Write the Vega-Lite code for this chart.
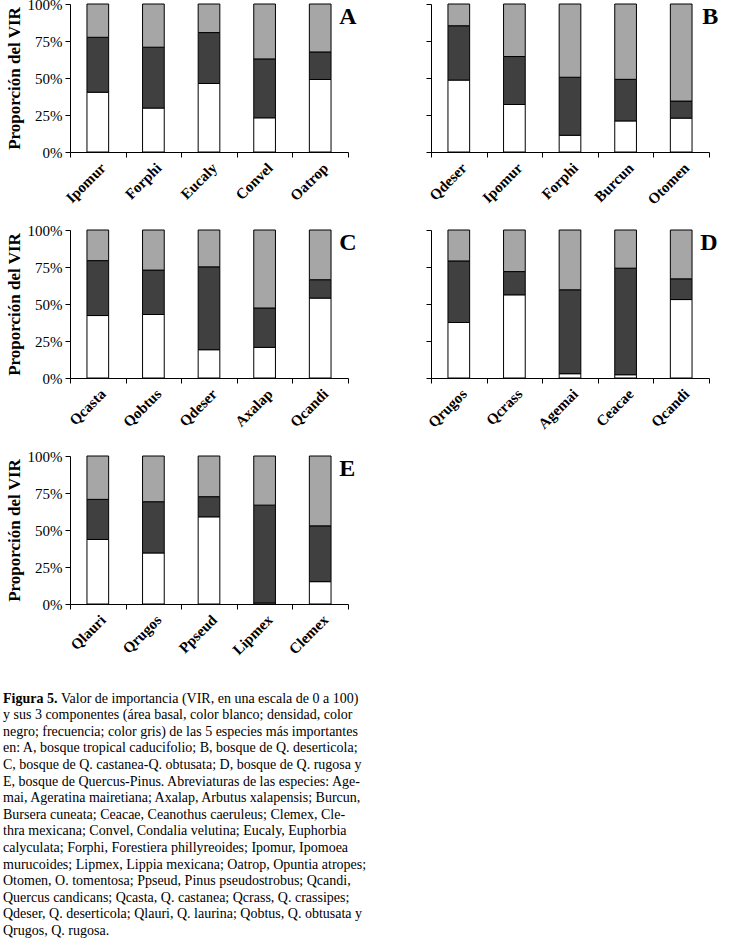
{
  "$schema": "https://vega.github.io/schema/vega-lite/v6.json",
  "padding": {"left": 3, "top": -3, "right": 5, "bottom": 0},
  "background": "#ffffff",
  "config": {
    "view": {"stroke": null},
    "font": "Liberation Serif",
    "axis": {"domainColor": "#000000", "tickColor": "#000000", "labelColor": "#000000", "titleColor": "#000000", "grid": false, "labelFont": "Liberation Serif", "titleFont": "Liberation Serif", "tickSize": 5, "domainWidth": 1, "tickWidth": 1, "labelOverlap": false},
    "axisX": {"title": null, "tickBand": "extent", "labelAngle": -45, "labelFontWeight": "bold", "labelFontSize": 15, "labelPadding": 3},
    "axisY": {"values": [0, 0.25, 0.5, 0.75, 1], "labelFontSize": 15, "labelPadding": 3, "titleFontSize": 17, "titleFontWeight": "bold", "titlePadding": 4}
  },
  "datasets": {
    "vir": [
      {"p": "A", "sp": "Ipomur", "c": "basal", "v": 40.4}, {"p": "A", "sp": "Ipomur", "c": "densidad", "v": 37.1}, {"p": "A", "sp": "Ipomur", "c": "frecuencia", "v": 22.5},
      {"p": "A", "sp": "Forphi", "c": "basal", "v": 29.7}, {"p": "A", "sp": "Forphi", "c": "densidad", "v": 41.1}, {"p": "A", "sp": "Forphi", "c": "frecuencia", "v": 29.2},
      {"p": "A", "sp": "Eucaly", "c": "basal", "v": 46.3}, {"p": "A", "sp": "Eucaly", "c": "densidad", "v": 34.4}, {"p": "A", "sp": "Eucaly", "c": "frecuencia", "v": 19.3},
      {"p": "A", "sp": "Convel", "c": "basal", "v": 23.1}, {"p": "A", "sp": "Convel", "c": "densidad", "v": 39.8}, {"p": "A", "sp": "Convel", "c": "frecuencia", "v": 37.1},
      {"p": "A", "sp": "Oatrop", "c": "basal", "v": 49.0}, {"p": "A", "sp": "Oatrop", "c": "densidad", "v": 18.6}, {"p": "A", "sp": "Oatrop", "c": "frecuencia", "v": 32.4},
      {"p": "B", "sp": "Qdeser", "c": "basal", "v": 48.6}, {"p": "B", "sp": "Qdeser", "c": "densidad", "v": 36.7}, {"p": "B", "sp": "Qdeser", "c": "frecuencia", "v": 14.7},
      {"p": "B", "sp": "Ipomur", "c": "basal", "v": 32.1}, {"p": "B", "sp": "Ipomur", "c": "densidad", "v": 32.4}, {"p": "B", "sp": "Ipomur", "c": "frecuencia", "v": 35.5},
      {"p": "B", "sp": "Forphi", "c": "basal", "v": 11.3}, {"p": "B", "sp": "Forphi", "c": "densidad", "v": 39.2}, {"p": "B", "sp": "Forphi", "c": "frecuencia", "v": 49.5},
      {"p": "B", "sp": "Burcun", "c": "basal", "v": 21.0}, {"p": "B", "sp": "Burcun", "c": "densidad", "v": 28.1}, {"p": "B", "sp": "Burcun", "c": "frecuencia", "v": 50.9},
      {"p": "B", "sp": "Otomen", "c": "basal", "v": 22.9}, {"p": "B", "sp": "Otomen", "c": "densidad", "v": 11.5}, {"p": "B", "sp": "Otomen", "c": "frecuencia", "v": 65.6},
      {"p": "C", "sp": "Qcasta", "c": "basal", "v": 42.2}, {"p": "C", "sp": "Qcasta", "c": "densidad", "v": 37.1}, {"p": "C", "sp": "Qcasta", "c": "frecuencia", "v": 20.7},
      {"p": "C", "sp": "Qobtus", "c": "basal", "v": 42.9}, {"p": "C", "sp": "Qobtus", "c": "densidad", "v": 30.0}, {"p": "C", "sp": "Qobtus", "c": "frecuencia", "v": 27.1},
      {"p": "C", "sp": "Qdeser", "c": "basal", "v": 19.1}, {"p": "C", "sp": "Qdeser", "c": "densidad", "v": 56.0}, {"p": "C", "sp": "Qdeser", "c": "frecuencia", "v": 24.9},
      {"p": "C", "sp": "Axalap", "c": "basal", "v": 20.7}, {"p": "C", "sp": "Axalap", "c": "densidad", "v": 26.6}, {"p": "C", "sp": "Axalap", "c": "frecuencia", "v": 52.7},
      {"p": "C", "sp": "Qcandi", "c": "basal", "v": 54.0}, {"p": "C", "sp": "Qcandi", "c": "densidad", "v": 12.4}, {"p": "C", "sp": "Qcandi", "c": "frecuencia", "v": 33.6},
      {"p": "D", "sp": "Qrugos", "c": "basal", "v": 37.5}, {"p": "D", "sp": "Qrugos", "c": "densidad", "v": 41.6}, {"p": "D", "sp": "Qrugos", "c": "frecuencia", "v": 20.9},
      {"p": "D", "sp": "Qcrass", "c": "basal", "v": 56.2}, {"p": "D", "sp": "Qcrass", "c": "densidad", "v": 15.7}, {"p": "D", "sp": "Qcrass", "c": "frecuencia", "v": 28.1},
      {"p": "D", "sp": "Agemai", "c": "basal", "v": 2.9}, {"p": "D", "sp": "Agemai", "c": "densidad", "v": 56.7}, {"p": "D", "sp": "Agemai", "c": "frecuencia", "v": 40.4},
      {"p": "D", "sp": "Ceacae", "c": "basal", "v": 2.2}, {"p": "D", "sp": "Ceacae", "c": "densidad", "v": 72.0}, {"p": "D", "sp": "Ceacae", "c": "frecuencia", "v": 25.8},
      {"p": "D", "sp": "Qcandi", "c": "basal", "v": 53.0}, {"p": "D", "sp": "Qcandi", "c": "densidad", "v": 14.0}, {"p": "D", "sp": "Qcandi", "c": "frecuencia", "v": 33.0},
      {"p": "E", "sp": "Qlauri", "c": "basal", "v": 43.6}, {"p": "E", "sp": "Qlauri", "c": "densidad", "v": 27.1}, {"p": "E", "sp": "Qlauri", "c": "frecuencia", "v": 29.3},
      {"p": "E", "sp": "Qrugos", "c": "basal", "v": 34.5}, {"p": "E", "sp": "Qrugos", "c": "densidad", "v": 34.6}, {"p": "E", "sp": "Qrugos", "c": "frecuencia", "v": 30.9},
      {"p": "E", "sp": "Ppseud", "c": "basal", "v": 58.9}, {"p": "E", "sp": "Ppseud", "c": "densidad", "v": 13.6}, {"p": "E", "sp": "Ppseud", "c": "frecuencia", "v": 27.5},
      {"p": "E", "sp": "Lipmex", "c": "basal", "v": 0.7}, {"p": "E", "sp": "Lipmex", "c": "densidad", "v": 66.1}, {"p": "E", "sp": "Lipmex", "c": "frecuencia", "v": 33.2},
      {"p": "E", "sp": "Clemex", "c": "basal", "v": 15.1}, {"p": "E", "sp": "Clemex", "c": "densidad", "v": 37.7}, {"p": "E", "sp": "Clemex", "c": "frecuencia", "v": 47.2}
    ],
    "labels": [
      {"p": "A", "t": "A", "sp": "Oatrop"},
      {"p": "B", "t": "B", "sp": "Otomen"},
      {"p": "C", "t": "C", "sp": "Qcandi"},
      {"p": "D", "t": "D", "sp": "Qcandi"},
      {"p": "E", "t": "E", "sp": "Clemex"}
    ],
    "caption": [
      {"line": 0, "part": "bold", "t": "Figura 5."},
      {"line": 0, "part": "rest", "t": "Valor de importancia (VIR, en una escala de 0 a 100)"},
      {"line": 1, "part": "normal", "t": "y sus 3 componentes (área basal, color blanco; densidad, color"},
      {"line": 2, "part": "normal", "t": "negro; frecuencia; color gris) de las 5 especies más importantes"},
      {"line": 3, "part": "normal", "t": "en: A, bosque tropical caducifolio; B, bosque de Q. deserticola;"},
      {"line": 4, "part": "normal", "t": "C, bosque de Q. castanea-Q. obtusata; D, bosque de Q. rugosa y"},
      {"line": 5, "part": "normal", "t": "E, bosque de Quercus-Pinus. Abreviaturas de las especies: Age-"},
      {"line": 6, "part": "normal", "t": "mai, Ageratina mairetiana; Axalap, Arbutus xalapensis; Burcun,"},
      {"line": 7, "part": "normal", "t": "Bursera cuneata; Ceacae, Ceanothus caeruleus; Clemex, Cle-"},
      {"line": 8, "part": "normal", "t": "thra mexicana; Convel, Condalia velutina; Eucaly, Euphorbia"},
      {"line": 9, "part": "normal", "t": "calyculata; Forphi, Forestiera phillyreoides; Ipomur, Ipomoea"},
      {"line": 10, "part": "normal", "t": "murucoides; Lipmex, Lippia mexicana; Oatrop, Opuntia atropes;"},
      {"line": 11, "part": "normal", "t": "Otomen, O. tomentosa; Ppseud, Pinus pseudostrobus; Qcandi,"},
      {"line": 12, "part": "normal", "t": "Quercus candicans; Qcasta, Q. castanea; Qcrass, Q. crassipes;"},
      {"line": 13, "part": "normal", "t": "Qdeser, Q. deserticola; Qlauri, Q. laurina; Qobtus, Q. obtusata y"},
      {"line": 14, "part": "normal", "t": "Qrugos, Q. rugosa."}
    ]
  },
  "columns": 2,
  "bounds": "flush",
  "spacing": {"row": 78, "column": 83},
  "concat": [
    {
      "width": 278, "height": 148,
      "layer": [
        {
          "data": {"name": "vir"},
          "transform": [{"filter": "datum.p === 'A'"}],
          "mark": {"type": "bar", "stroke": "#000000", "strokeWidth": 1, "width": {"band": 0.39}},
          "encoding": {
            "x": {"field": "sp", "type": "nominal", "scale": {"domain": ["Ipomur", "Forphi", "Eucaly", "Convel", "Oatrop"], "paddingInner": 0, "paddingOuter": 0}},
            "y": {"field": "v", "type": "quantitative", "stack": "normalize", "scale": {"domain": [0, 1]}, "axis": {"values": [0, 0.25, 0.5, 0.75, 1], "format": ".0%", "title": "Proporción del VIR"}},
            "color": {"field": "c", "type": "nominal", "scale": {"domain": ["basal", "densidad", "frecuencia"], "range": ["#ffffff", "#404040", "#a6a6a6"]}, "legend": null},
            "order": {"field": "c", "sort": "ascending"}
          }
        },
        {
          "data": {"name": "labels"},
          "transform": [{"filter": "datum.p === 'A'"}],
          "mark": {"type": "text", "font": "Liberation Serif", "fontWeight": "bold", "fontSize": 24, "align": "left", "baseline": "top", "dx": 19, "dy": 1, "color": "#000000"},
          "encoding": {"x": {"field": "sp", "type": "nominal"}, "y": {"datum": 1, "type": "quantitative", "axis": {"values": [0, 0.25, 0.5, 0.75, 1], "format": ".0%", "title": "Proporción del VIR"}}, "text": {"field": "t"}}
        }
      ]
    },
    {
      "width": 278, "height": 148,
      "layer": [
        {
          "data": {"name": "vir"},
          "transform": [{"filter": "datum.p === 'B'"}],
          "mark": {"type": "bar", "stroke": "#000000", "strokeWidth": 1, "width": {"band": 0.39}},
          "encoding": {
            "x": {"field": "sp", "type": "nominal", "scale": {"domain": ["Qdeser", "Ipomur", "Forphi", "Burcun", "Otomen"], "paddingInner": 0, "paddingOuter": 0}},
            "y": {"field": "v", "type": "quantitative", "stack": "normalize", "scale": {"domain": [0, 1]}, "axis": {"values": [0, 0.25, 0.5, 0.75, 1], "labels": false, "title": null}},
            "color": {"field": "c", "type": "nominal", "scale": {"domain": ["basal", "densidad", "frecuencia"], "range": ["#ffffff", "#262626", "#a6a6a6"]}, "legend": null},
            "order": {"field": "c", "sort": "ascending"}
          }
        },
        {
          "data": {"name": "labels"},
          "transform": [{"filter": "datum.p === 'B'"}],
          "mark": {"type": "text", "font": "Liberation Serif", "fontWeight": "bold", "fontSize": 24, "align": "left", "baseline": "top", "dx": 21, "dy": 1, "color": "#000000"},
          "encoding": {"x": {"field": "sp", "type": "nominal"}, "y": {"datum": 1, "type": "quantitative", "axis": {"values": [0, 0.25, 0.5, 0.75, 1], "labels": false, "title": null}}, "text": {"field": "t"}}
        }
      ]
    },
    {
      "width": 278, "height": 148,
      "layer": [
        {
          "data": {"name": "vir"},
          "transform": [{"filter": "datum.p === 'C'"}],
          "mark": {"type": "bar", "stroke": "#000000", "strokeWidth": 1, "width": {"band": 0.39}},
          "encoding": {
            "x": {"field": "sp", "type": "nominal", "scale": {"domain": ["Qcasta", "Qobtus", "Qdeser", "Axalap", "Qcandi"], "paddingInner": 0, "paddingOuter": 0}},
            "y": {"field": "v", "type": "quantitative", "stack": "normalize", "scale": {"domain": [0, 1]}, "axis": {"values": [0, 0.25, 0.5, 0.75, 1], "format": ".0%", "title": "Proporción del VIR"}},
            "color": {"field": "c", "type": "nominal", "scale": {"domain": ["basal", "densidad", "frecuencia"], "range": ["#ffffff", "#262626", "#a6a6a6"]}, "legend": null},
            "order": {"field": "c", "sort": "ascending"}
          }
        },
        {
          "data": {"name": "labels"},
          "transform": [{"filter": "datum.p === 'C'"}],
          "mark": {"type": "text", "font": "Liberation Serif", "fontWeight": "bold", "fontSize": 24, "align": "left", "baseline": "top", "dx": 19, "dy": 1, "color": "#000000"},
          "encoding": {"x": {"field": "sp", "type": "nominal"}, "y": {"datum": 1, "type": "quantitative", "axis": {"values": [0, 0.25, 0.5, 0.75, 1], "format": ".0%", "title": "Proporción del VIR"}}, "text": {"field": "t"}}
        }
      ]
    },
    {
      "width": 278, "height": 148,
      "layer": [
        {
          "data": {"name": "vir"},
          "transform": [{"filter": "datum.p === 'D'"}],
          "mark": {"type": "bar", "stroke": "#000000", "strokeWidth": 1, "width": {"band": 0.39}},
          "encoding": {
            "x": {"field": "sp", "type": "nominal", "scale": {"domain": ["Qrugos", "Qcrass", "Agemai", "Ceacae", "Qcandi"], "paddingInner": 0, "paddingOuter": 0}},
            "y": {"field": "v", "type": "quantitative", "stack": "normalize", "scale": {"domain": [0, 1]}, "axis": {"values": [0, 0.25, 0.5, 0.75, 1], "labels": false, "title": null}},
            "color": {"field": "c", "type": "nominal", "scale": {"domain": ["basal", "densidad", "frecuencia"], "range": ["#ffffff", "#262626", "#a6a6a6"]}, "legend": null},
            "order": {"field": "c", "sort": "ascending"}
          }
        },
        {
          "data": {"name": "labels"},
          "transform": [{"filter": "datum.p === 'D'"}],
          "mark": {"type": "text", "font": "Liberation Serif", "fontWeight": "bold", "fontSize": 24, "align": "left", "baseline": "top", "dx": 19, "dy": 1, "color": "#000000"},
          "encoding": {"x": {"field": "sp", "type": "nominal"}, "y": {"datum": 1, "type": "quantitative", "axis": {"values": [0, 0.25, 0.5, 0.75, 1], "labels": false, "title": null}}, "text": {"field": "t"}}
        }
      ]
    },
    {
      "width": 278, "height": 148,
      "layer": [
        {
          "data": {"name": "vir"},
          "transform": [{"filter": "datum.p === 'E'"}],
          "mark": {"type": "bar", "stroke": "#000000", "strokeWidth": 1, "width": {"band": 0.39}},
          "encoding": {
            "x": {"field": "sp", "type": "nominal", "scale": {"domain": ["Qlauri", "Qrugos", "Ppseud", "Lipmex", "Clemex"], "paddingInner": 0, "paddingOuter": 0}},
            "y": {"field": "v", "type": "quantitative", "stack": "normalize", "scale": {"domain": [0, 1]}, "axis": {"values": [0, 0.25, 0.5, 0.75, 1], "format": ".0%", "title": "Proporción del VIR"}},
            "color": {"field": "c", "type": "nominal", "scale": {"domain": ["basal", "densidad", "frecuencia"], "range": ["#ffffff", "#262626", "#a6a6a6"]}, "legend": null},
            "order": {"field": "c", "sort": "ascending"}
          }
        },
        {
          "data": {"name": "labels"},
          "transform": [{"filter": "datum.p === 'E'"}],
          "mark": {"type": "text", "font": "Liberation Serif", "fontWeight": "bold", "fontSize": 24, "align": "left", "baseline": "top", "dx": 19, "dy": 1, "color": "#000000"},
          "encoding": {"x": {"field": "sp", "type": "nominal"}, "y": {"datum": 1, "type": "quantitative", "axis": {"values": [0, 0.25, 0.5, 0.75, 1], "format": ".0%", "title": "Proporción del VIR"}}, "text": {"field": "t"}}
        }
      ]
    },
    {
      "width": 1, "height": 1,
      "data": {"values": []},
      "mark": "point",
      "encoding": {}
    },
    {
      "width": 278, "height": 249,
      "data": {"name": "caption"},
      "encoding": {
        "x": {"datum": 0, "type": "quantitative", "scale": {"domain": [0, 1]}, "axis": null},
        "y": {"field": "line", "type": "quantitative", "scale": {"domain": [-1, 14], "reverse": true}, "axis": null},
        "text": {"field": "t"}
      },
      "layer": [
        {
          "transform": [{"filter": "datum.part === 'normal'"}],
          "mark": {"type": "text", "font": "Liberation Serif", "fontSize": 14, "align": "left", "baseline": "middle", "dx": -67, "color": "#000000"}
        },
        {
          "transform": [{"filter": "datum.part === 'bold'"}],
          "mark": {"type": "text", "font": "Liberation Serif", "fontSize": 14, "fontWeight": "bold", "align": "left", "baseline": "middle", "dx": -67, "color": "#000000"}
        },
        {
          "transform": [{"filter": "datum.part === 'rest'"}],
          "mark": {"type": "text", "font": "Liberation Serif", "fontSize": 14, "align": "left", "baseline": "middle", "dx": -9, "color": "#000000"}
        }
      ]
    }
  ]
}
